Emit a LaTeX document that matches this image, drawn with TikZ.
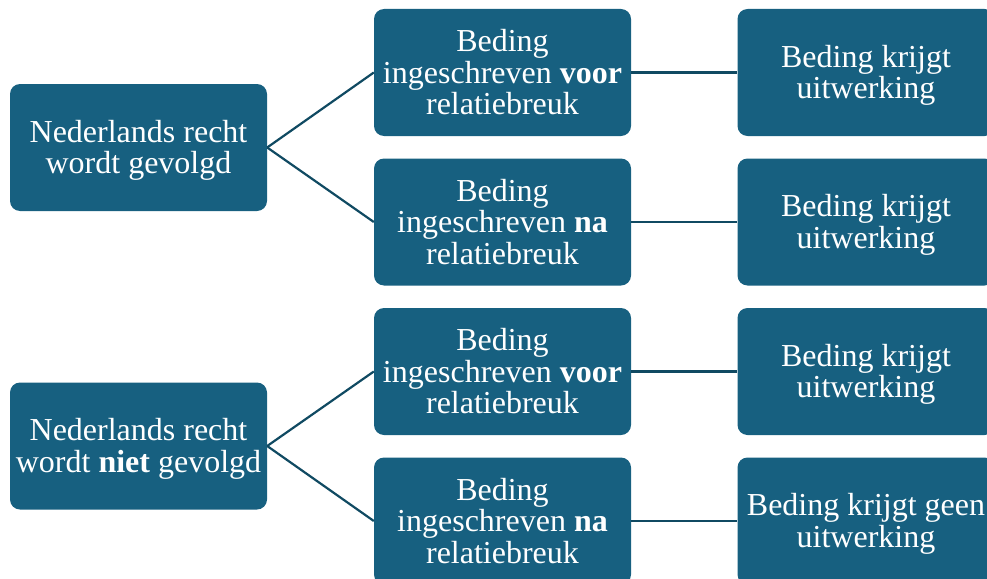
\documentclass[tikz,border=0pt]{standalone}
\usepackage{fontspec}
\setmainfont{Liberation Serif}
\definecolor{boxblue}{RGB}{23,96,128}
\definecolor{linkcol}{RGB}{16,74,98}
\newcommand\lowerstrut{\rule{0pt}{28pt}}
\begin{document}
\begin{tikzpicture}[x=1pt,y=-1pt,
  box/.style={rectangle, rounded corners=10pt, fill=boxblue, text=white,
    minimum width=257pt, minimum height=127pt, inner sep=0pt, align=center,
    font=\fontsize{32}{31.5}\selectfont},
  link/.style={draw=linkcol, line width=2.2pt}]
\useasboundingbox (0,0) rectangle (987,578);
\clip (0,0) rectangle (987,578);
\node[box] (l1) at (138.5,147.5) {\lowerstrut Nederlands recht\\wordt gevolgd};
\node[box] (l2) at (138.5,446) {\lowerstrut Nederlands recht\\wordt \textbf{niet} gevolgd};
\node[box] (m1) at (502.5,72.5) {Beding\\ingeschreven \textbf{voor}\\relatiebreuk};
\node[box] (m2) at (502.5,222) {Beding\\ingeschreven \textbf{na}\\relatiebreuk};
\node[box] (m3) at (502.5,371.5) {Beding\\ingeschreven \textbf{voor}\\relatiebreuk};
\node[box] (m4) at (502.5,521) {Beding\\ingeschreven \textbf{na}\\relatiebreuk};
\node[box] (r1) at (866,72.5) {\lowerstrut Beding krijgt\\uitwerking};
\node[box] (r2) at (866,222) {\lowerstrut Beding krijgt\\uitwerking};
\node[box] (r3) at (866,371.5) {\lowerstrut Beding krijgt\\uitwerking};
\node[box] (r4) at (866,521) {\lowerstrut Beding krijgt geen\\uitwerking};
\draw[link] (l1.east) -- (m1.west);
\draw[link] (l1.east) -- (m2.west);
\draw[link] (l2.east) -- (m3.west);
\draw[link] (l2.east) -- (m4.west);
\draw[link] (m1.east) -- (r1.west);
\draw[link] (m2.east) -- (r2.west);
\draw[link] (m3.east) -- (r3.west);
\draw[link] (m4.east) -- (r4.west);
\end{tikzpicture}
\end{document}
